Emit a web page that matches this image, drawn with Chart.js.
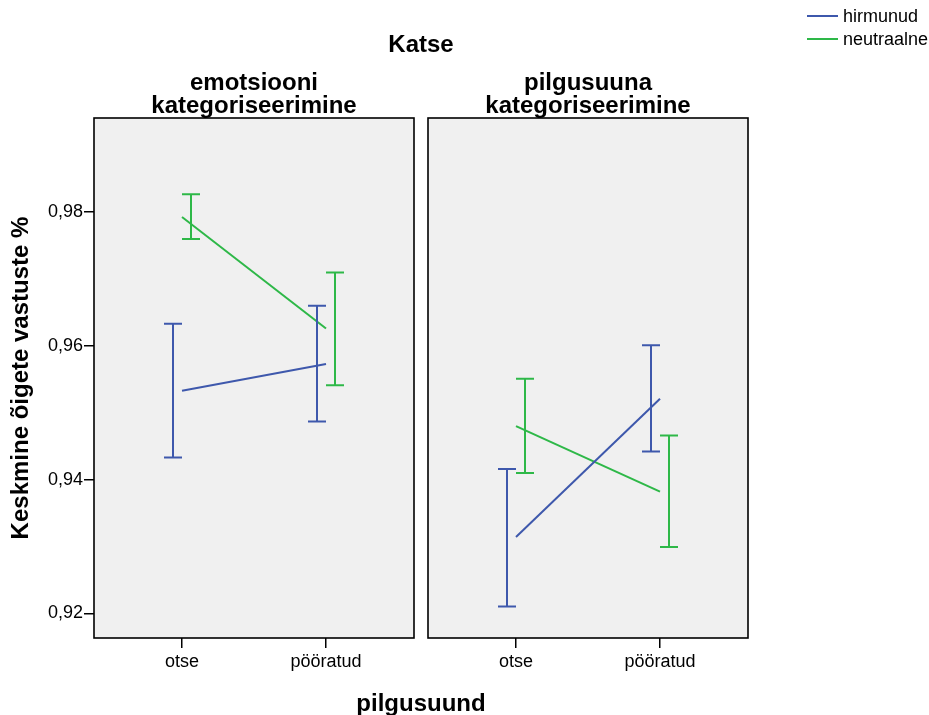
<!DOCTYPE html>
<html>
<head>
<meta charset="utf-8">
<script src="https://cdn.jsdelivr.net/npm/chart.js@4/dist/chart.umd.min.js"></script>
<style>
  html, body { margin: 0; padding: 0; background: #ffffff; }
  body { width: 929px; height: 715px; position: relative; overflow: hidden;
         font-family: "Liberation Sans", Arial, sans-serif; color: #000; }
  .box { position: absolute; }
  .txt { position: absolute; white-space: nowrap; text-align: center; }
  .bold { font-weight: bold; }
  .leg { position: absolute; left: 807px; width: 31px; height: 2px; }
  .legt { position: absolute; left: 843px; font-size: 18px; line-height: 20px; }
</style>
</head>
<body>
<div class="box" style="left:0;top:0;width:420px;height:715px;"><canvas id="c1"></canvas></div>
<div class="box" style="left:420px;top:0;width:509px;height:715px;"><canvas id="c2"></canvas></div>

<div id="mainTitle" class="txt bold" style="left:321px;width:200px;top:31px;font-size:24px;line-height:26px;"></div>
<div id="p1Title" class="txt bold" style="left:104px;width:300px;top:70px;font-size:24px;line-height:23px;"></div>
<div id="p2Title" class="txt bold" style="left:438px;width:300px;top:70px;font-size:24px;line-height:23px;"></div>
<div id="xTitle" class="txt bold" style="left:321px;width:200px;top:690px;font-size:24px;line-height:26px;"></div>

<div id="legend"></div>

<script>
// ---------- data ----------
const categories = ['otse', 'pööratud'];
const panelTitles = ['emotsiooni\nkategoriseerimine', 'pilgusuuna\nkategoriseerimine'];
const seriesNames = ['hirmunud', 'neutraalne'];
const mainTitle = 'Katse';
const xTitle = 'pilgusuund';
const yTitle = 'Keskmine õigete vastuste %';
const yTicks = [0.92, 0.94, 0.96, 0.98];

// panel 1: emotsiooni kategoriseerimine
const emoHirmMean = [0.9533, 0.9573];
const emoHirmLow  = [0.9433, 0.9487];
const emoHirmHigh = [0.9633, 0.9660];
const emoNeutMean = [0.9793, 0.9626];
const emoNeutLow  = [0.9760, 0.9541];
const emoNeutHigh = [0.9827, 0.9710];

// panel 2: pilgusuuna kategoriseerimine
const pilHirmMean = [0.9314, 0.9521];
const pilHirmLow  = [0.9210, 0.9442];
const pilHirmHigh = [0.9416, 0.9601];
const pilNeutMean = [0.9480, 0.9382];
const pilNeutLow  = [0.9410, 0.9299];
const pilNeutHigh = [0.9551, 0.9466];

// ---------- style ----------
const colors = ['#3e58ac', '#2eb848'];
const errOffset = [-0.0625, 0.0625];
const Y_MIN = 0.9163, Y_MAX = 0.9941;
const X_MIN = -0.611, X_MAX = 1.611;

// ---------- text ----------
document.getElementById('mainTitle').textContent = mainTitle;
document.getElementById('xTitle').textContent = xTitle;
document.getElementById('p1Title').innerHTML = panelTitles[0].split('\n').join('<br>');
document.getElementById('p2Title').innerHTML = panelTitles[1].split('\n').join('<br>');
const legendEl = document.getElementById('legend');
seriesNames.forEach((n, i) => {
  const y = 16 + i * 23;
  const ln = document.createElement('div');
  ln.className = 'leg'; ln.style.top = (y - 1) + 'px'; ln.style.background = colors[i];
  const t = document.createElement('div');
  t.className = 'legt'; t.style.top = (y - 10) + 'px'; t.textContent = n;
  legendEl.appendChild(ln); legendEl.appendChild(t);
});

Chart.defaults.color = '#000';
Chart.defaults.font.family = '"Liberation Sans", Arial, sans-serif';

const panelPlugin = {
  id: 'panel',
  beforeDatasetsDraw(chart) {
    const {ctx, chartArea: a} = chart;
    ctx.save();
    ctx.fillStyle = '#f0f0f0';
    ctx.fillRect(a.left, a.top, a.right - a.left, a.bottom - a.top);
    ctx.restore();
  },
  afterDatasetsDraw(chart) {
    const {ctx, chartArea: a, scales} = chart;
    const xs = scales.x, ys = scales.y;
    ctx.save();
    chart.data.datasets.forEach((ds) => {
      ctx.strokeStyle = ds.borderColor;
      ctx.lineWidth = 2;
      ds.errLow.forEach((lo, i) => {
        const x = Math.round(xs.getPixelForValue(i + ds.errOff));
        const y1 = ys.getPixelForValue(lo);
        const y2 = ys.getPixelForValue(ds.errHigh[i]);
        ctx.beginPath();
        ctx.moveTo(x, y1); ctx.lineTo(x, y2);
        ctx.moveTo(x - 9, y1); ctx.lineTo(x + 9, y1);
        ctx.moveTo(x - 9, y2); ctx.lineTo(x + 9, y2);
        ctx.stroke();
      });
    });
    ctx.strokeStyle = '#000';
    ctx.lineWidth = 1.6;
    ctx.strokeRect(a.left, a.top, a.right - a.left, a.bottom - a.top);
    ctx.restore();
  }
};

function makeChart(id, means, lows, highs, showY, pad) {
  const datasets = means.map((m, s) => ({
    label: seriesNames[s],
    data: m.map((v, i) => ({x: i, y: v})),
    errLow: lows[s], errHigh: highs[s], errOff: errOffset[s],
    borderColor: colors[s], backgroundColor: colors[s],
    borderWidth: 2, pointRadius: 0, tension: 0, fill: false
  }));
  return new Chart(document.getElementById(id), {
    type: 'line',
    data: {datasets},
    plugins: [panelPlugin],
    options: {
      responsive: true, maintainAspectRatio: false, animation: false,
      layout: {padding: pad},
      plugins: {legend: {display: false}, tooltip: {enabled: false}},
      scales: {
        x: {
          type: 'linear', min: X_MIN, max: X_MAX,
          afterBuildTicks: s => { s.ticks = categories.map((c, i) => ({value: i})); },
          afterFit: s => { s.height = 77; },
          ticks: {callback: v => categories[v], font: {size: 18}, padding: 3, maxRotation: 0, autoSkip: false},
          grid: {drawOnChartArea: false, drawTicks: true, tickLength: 10, color: '#000', lineWidth: 1.5},
          border: {display: false}
        },
        y: {
          display: showY,
          min: Y_MIN, max: Y_MAX,
          afterBuildTicks: s => { s.ticks = yTicks.map(v => ({value: v})); },
          afterFit: s => { s.width = showY ? 94 : 0; },
          ticks: {callback: v => v.toFixed(2).replace('.', ','), font: {size: 18}, padding: 1},
          grid: {drawOnChartArea: false, drawTicks: true, tickLength: 10, color: '#000', lineWidth: 1.5},
          border: {display: false},
          title: {display: true, text: yTitle, font: {size: 24, weight: 'bold'}, padding: {top: 7, bottom: 0}}
        }
      }
    }
  });
}

makeChart('c1', [emoHirmMean, emoNeutMean], [emoHirmLow, emoNeutLow], [emoHirmHigh, emoNeutHigh],
  true, {top: 118, right: 6, bottom: 0, left: 0});
makeChart('c2', [pilHirmMean, pilNeutMean], [pilHirmLow, pilNeutLow], [pilHirmHigh, pilNeutHigh],
  false, {top: 118, right: 181, bottom: 0, left: 8});
</script>
</body>
</html>
